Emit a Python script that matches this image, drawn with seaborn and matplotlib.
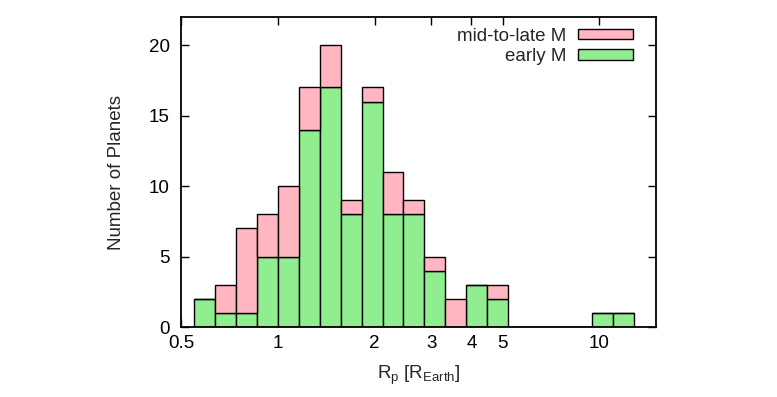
import numpy as np
import pandas as pd
import matplotlib
matplotlib.use("Agg")
import matplotlib.pyplot as plt
import seaborn as sns
from matplotlib.patches import Patch

# ---- data ----
bin_index = list(range(-4, 17))  # bins of width 0.15 in ln(R)
early_M = [2, 1, 1, 5, 5, 14, 17, 8, 16, 8, 8, 4, 0, 3, 2, 0, 0, 0, 0, 1, 1]
mid_late_M = [0, 2, 6, 3, 5, 3, 3, 1, 1, 3, 1, 1, 2, 0, 1, 0, 0, 0, 0, 0, 0]
labels = ["mid-to-late M", "early M"]
colors = {"mid-to-late M": "#ffb6c1", "early M": "#90ee90"}
x_ticks = [0.5, 1, 2, 3, 4, 5, 10]
x_ticklabels = ["0.5", "1", "2", "3", "4", "5", "10"]
y_ticks = [0, 5, 10, 15, 20]

dlog = 0.15
edges = [float(v) for v in np.exp(np.arange(bin_index[0], bin_index[-1] + 2) * dlog)]
centers = np.exp((np.array(bin_index) + 0.5) * dlog)

df = pd.concat([
    pd.DataFrame({"R": centers, "n": mid_late_M, "type": "mid-to-late M"}),
    pd.DataFrame({"R": centers, "n": early_M, "type": "early M"}),
], ignore_index=True)

sns.set_style("ticks")
plt.rcParams["font.family"] = ["Liberation Sans", "DejaVu Sans"]
plt.rcParams["mathtext.default"] = "regular"

FS = 13.5
fig = plt.figure(figsize=(7.77, 3.97), dpi=100)
ax = fig.add_axes([181 / 777, 1 - 327 / 397, 475 / 777, 310 / 397])

sns.histplot(data=df, x="R", weights="n", hue="type", hue_order=labels,
             multiple="stack", bins=edges, palette=colors, edgecolor="black",
             linewidth=1.0, alpha=1, ax=ax, legend=False)

ax.set_xscale("log")
ax.set_xlim(0.5, 15)
ax.set_ylim(0, 22)
ax.set_xticks(x_ticks)
ax.set_xticklabels(x_ticklabels)
ax.xaxis.set_minor_locator(matplotlib.ticker.NullLocator())
ax.set_yticks(y_ticks)
ax.tick_params(axis="both", which="major", direction="in", length=6, width=1,
               top=True, right=True, labelsize=FS, colors="black")
ax.tick_params(axis="x", pad=6)
ax.tick_params(axis="y", pad=8)
for s in ax.spines.values():
    s.set_linewidth(1.3)
    s.set_color("black")

ax.set_xlabel("R$_p$ [R$_{Earth}$]", fontsize=FS, labelpad=8)
ax.set_ylabel("Number of Planets", fontsize=FS, labelpad=17)

handles = [Patch(facecolor=colors[l], edgecolor="black", linewidth=1.0) for l in labels]
ax.legend(handles, labels, loc="upper right", bbox_to_anchor=(0.952, 0.966),
          frameon=False, markerfirst=False, fontsize=FS, handlelength=2.93,
          handleheight=0.5, handletextpad=0.65, labelspacing=0.2,
          borderpad=0, borderaxespad=0)

fig.savefig("out.png", dpi=100)
